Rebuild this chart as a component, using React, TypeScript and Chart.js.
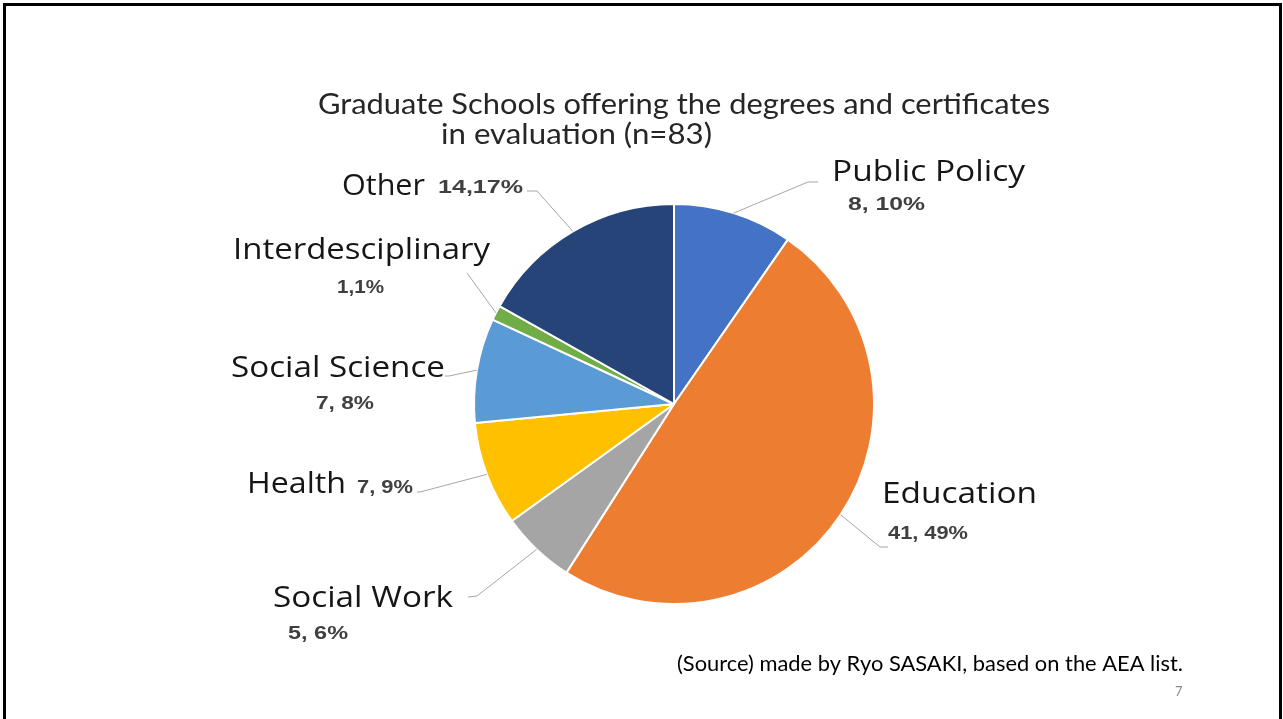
import React, { useEffect, useRef } from "react";
import { Chart, registerables } from "chart.js";

Chart.register(...registerables);

const categories = ["Public Policy", "Education", "Social Work", "Health", "Social Science", "Interdesciplinary", "Other"];
const counts = [8, 41, 5, 7, 7, 1, 14];
const valueLabels = ["8, 10%", "41, 49%", "5, 6%", "7, 9%", "7, 8%", "1,1%", "14,17%"];
const colors = ["#4472C4", "#ED7D31", "#A5A5A5", "#FFC000", "#5B9BD5", "#70AD47", "#264478"];
const titleLines = ["Graduate Schools offering the degrees and certificates", "in evaluation (n=83)"];
const sourceText = "(Source) made by Ryo SASAKI, based on the AEA list.";
const pageNumber = "7";

// label layout: name position/width, value position/width, leader line bends
const labelLayout = [
  { name: [832, 173, 193], value: [848, 205, 77], line: [[808, 182], [818, 182]] },
  { name: [882, 495, 155], value: [888, 534, 80], line: [[880, 547], [888, 547]] },
  { name: [273, 599, 180], value: [288, 634, 60], line: [[477, 596], [468, 597]] },
  { name: [247, 485, 99], value: [357, 488, 56], line: [[420, 492], [417, 492]] },
  { name: [231, 369, 214], value: [316, 404, 58], line: [[449, 376], [445, 376]] },
  { name: [233, 251, 257], value: [337, 288, 47], line: [[467, 273]] },
  { name: [342, 187, 83], value: [438, 188, 85], line: [[537, 191], [527, 191]] },
];

function drawFit(ctx: CanvasRenderingContext2D, text: string, x: number, y: number, size: number, family: string, weight: string, color: string, width?: number) {
  ctx.save();
  ctx.font = `${weight} ${size}px ${family}`;
  const w = ctx.measureText(text).width;
  const sx = width ? width / w : 1;
  ctx.translate(x, y);
  ctx.scale(sx, 1);
  ctx.fillStyle = color;
  ctx.textBaseline = "middle";
  ctx.textAlign = "left";
  ctx.fillText(text, 0, 0);
  ctx.restore();
}

const decorPlugin = {
  id: "decor",
  afterDraw(chart: any) {
    const ctx: CanvasRenderingContext2D = chart.ctx;
    // slide frame
    ctx.save();
    ctx.strokeStyle = "#000";
    ctx.lineWidth = 3;
    ctx.strokeRect(4.5, 4.5, 1276, 740);
    ctx.restore();

    // title
    drawFit(ctx, titleLines[0], 318, 105, 28, "Lato", "normal", "#262626", 732);
    drawFit(ctx, titleLines[1], 441, 135, 28, "Lato", "normal", "#262626", 271);

    // leader lines + labels
    const meta = chart.getDatasetMeta(0);
    meta.data.forEach((arc: any, i: number) => {
      const p = arc.getProps(["x", "y", "startAngle", "endAngle", "outerRadius"], true);
      const mid = (p.startAngle + p.endAngle) / 2;
      const sx = p.x + Math.cos(mid) * p.outerRadius;
      const sy = p.y + Math.sin(mid) * p.outerRadius;
      const L = labelLayout[i];
      ctx.save();
      ctx.strokeStyle = "#A6A6A6";
      ctx.lineWidth = 1;
      ctx.beginPath();
      ctx.moveTo(sx, sy);
      L.line.forEach((pt) => ctx.lineTo(pt[0], pt[1]));
      ctx.stroke();
      ctx.restore();
      drawFit(ctx, categories[i], L.name[0], L.name[1], 29, "'Open Sans'", "normal", "#161616", L.name[2]);
      drawFit(ctx, valueLabels[i], L.value[0], L.value[1], 19, "'Liberation Sans'", "bold", "#404040", L.value[2]);
    });

    // source + page number
    drawFit(ctx, sourceText, 677, 664, 22, "Lato", "normal", "#000", 506);
    drawFit(ctx, pageNumber, 1175, 692, 13, "Lato", "normal", "#8C8C8C");
  },
};

export default function App() {
  const ref = useRef<HTMLCanvasElement>(null);
  useEffect(() => {
    if (!ref.current) return;
    const chart = new Chart(ref.current, {
      type: "pie",
      data: {
        labels: categories,
        datasets: [
          {
            data: counts,
            backgroundColor: colors,
            borderColor: "#FFFFFF",
            borderWidth: 2,
          },
        ],
      },
      options: {
        responsive: false,
        animation: false,
        layout: { padding: { top: 202, bottom: 113, left: 473, right: 408 } },
        plugins: {
          legend: { display: false },
          tooltip: { enabled: false },
          title: { display: false },
        },
      },
      plugins: [decorPlugin],
    });
    return () => chart.destroy();
  }, []);
  return (
    <div style={{ position: "fixed", left: 0, top: 0, width: 1283, height: 719, background: "#fff" }}>
      <canvas ref={ref} width={1283} height={719} style={{ display: "block" }} />
    </div>
  );
}
